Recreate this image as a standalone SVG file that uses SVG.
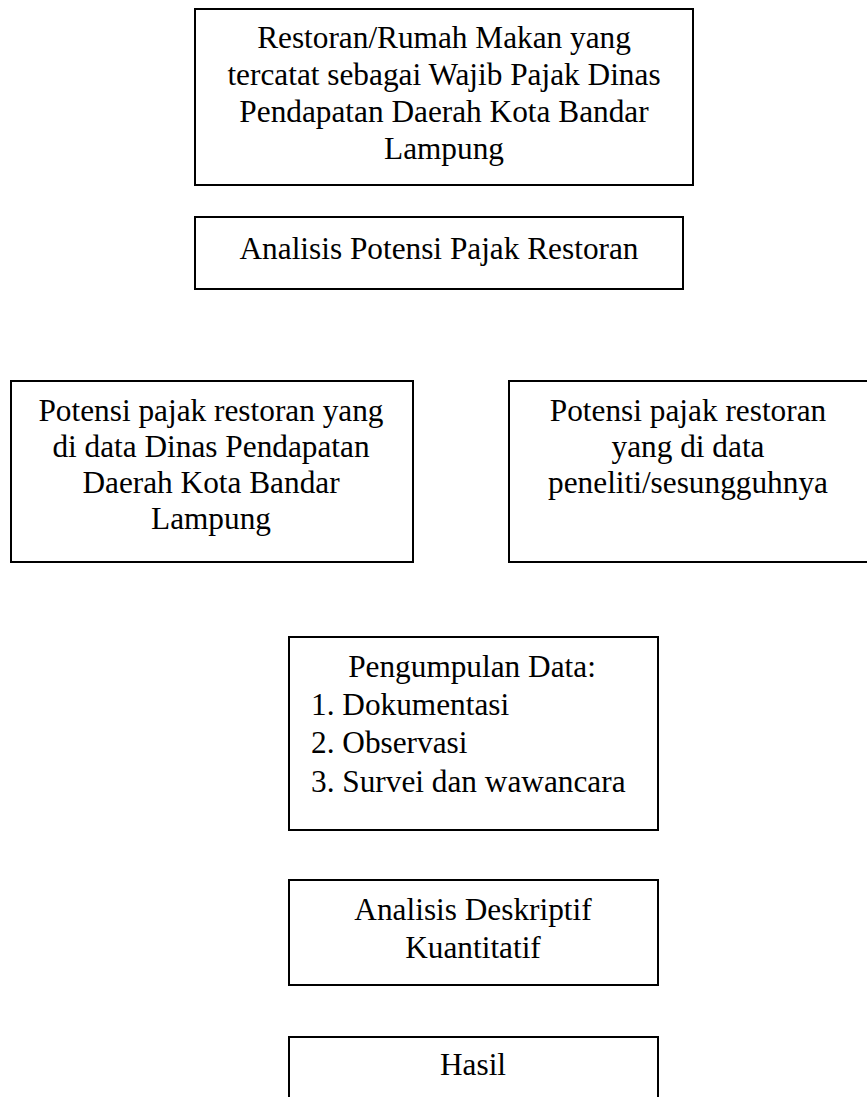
<svg xmlns="http://www.w3.org/2000/svg" width="867" height="1097" viewBox="0 0 867 1097">
<style>
.box{fill:#fff;stroke:#000;stroke-width:2}
.t{font-family:"Liberation Serif","Times New Roman",serif;font-size:31.3px;fill:#000}
.c{text-anchor:middle}
</style>
<rect width="867" height="1097" fill="#fff"/>
<g id="connectors"></g>
<g id="n1">
<rect class="box" x="195" y="9" width="498" height="176"/>
<text class="t c" x="444" y="48">Restoran/Rumah Makan yang</text>
<text class="t c" x="444" y="85">tercatat sebagai Wajib Pajak Dinas</text>
<text class="t c" x="444" y="122">Pendapatan Daerah Kota Bandar</text>
<text class="t c" x="444" y="159">Lampung</text>
</g>
<g id="n2">
<rect class="box" x="195" y="217" width="488" height="72"/>
<text class="t c" x="439" y="259">Analisis Potensi Pajak Restoran</text>
</g>
<g id="n3">
<rect class="box" x="11" y="381" width="402" height="181"/>
<text class="t c" x="211" y="421">Potensi pajak restoran yang</text>
<text class="t c" x="211" y="457">di data Dinas Pendapatan</text>
<text class="t c" x="211" y="493">Daerah Kota Bandar</text>
<text class="t c" x="211" y="529">Lampung</text>
</g>
<g id="n4">
<rect class="box" x="509" y="381" width="362" height="181"/>
<text class="t c" x="688" y="421">Potensi pajak restoran</text>
<text class="t c" x="688" y="457">yang di data</text>
<text class="t c" x="688" y="493">peneliti/sesungguhnya</text>
</g>
<g id="n5">
<rect class="box" x="289" y="637" width="369" height="193"/>
<text class="t c" x="472" y="677">Pengumpulan Data:</text>
<text class="t" x="311" y="715">1. Dokumentasi</text>
<text class="t" x="311" y="753">2. Observasi</text>
<text class="t" x="311" y="792">3. Survei dan wawancara</text>
</g>
<g id="n6">
<rect class="box" x="289" y="880" width="369" height="105"/>
<text class="t c" x="473" y="920">Analisis Deskriptif</text>
<text class="t c" x="473" y="958">Kuantitatif</text>
</g>
<g id="n7">
<rect class="box" x="289" y="1037" width="369" height="70"/>
<text class="t c" x="473" y="1075">Hasil</text>
</g>
</svg>
